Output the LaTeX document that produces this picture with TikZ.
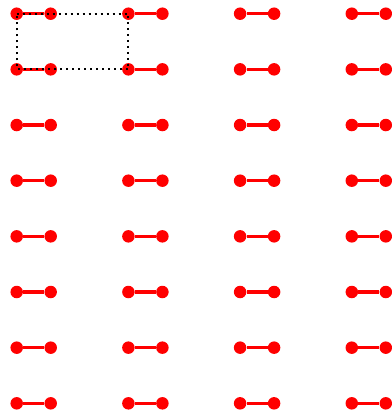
\documentclass[tikz,border=0pt]{standalone}
\begin{document}
\begin{tikzpicture}[x=1pt,y=-1pt,
  dot/.style={circle,fill=red,inner sep=0pt,minimum size=12.5pt},
  bar/.style={red,line width=3.6pt},
  sel/.style={black,line width=2pt,dash pattern=on 2pt off 4pt}]
\useasboundingbox (0,0) rectangle (391,412);
\foreach \c in {0,1,2,3}{
  \foreach \r in {0,...,7}{
    \node[dot] (a\c-\r) at ({16.7+111.7*\c},{13.7+55.66*\r}) {};
    \node[dot] (b\c-\r) at ({50.7+111.7*\c},{13.7+55.66*\r}) {};
    \draw[bar] (a\c-\r) -- (b\c-\r);
  }
}
\draw[sel] (a0-0.center) -- (a1-0.center) -- (a1-1.center) -- (a0-1.center) -- cycle;
\end{tikzpicture}
\end{document}
